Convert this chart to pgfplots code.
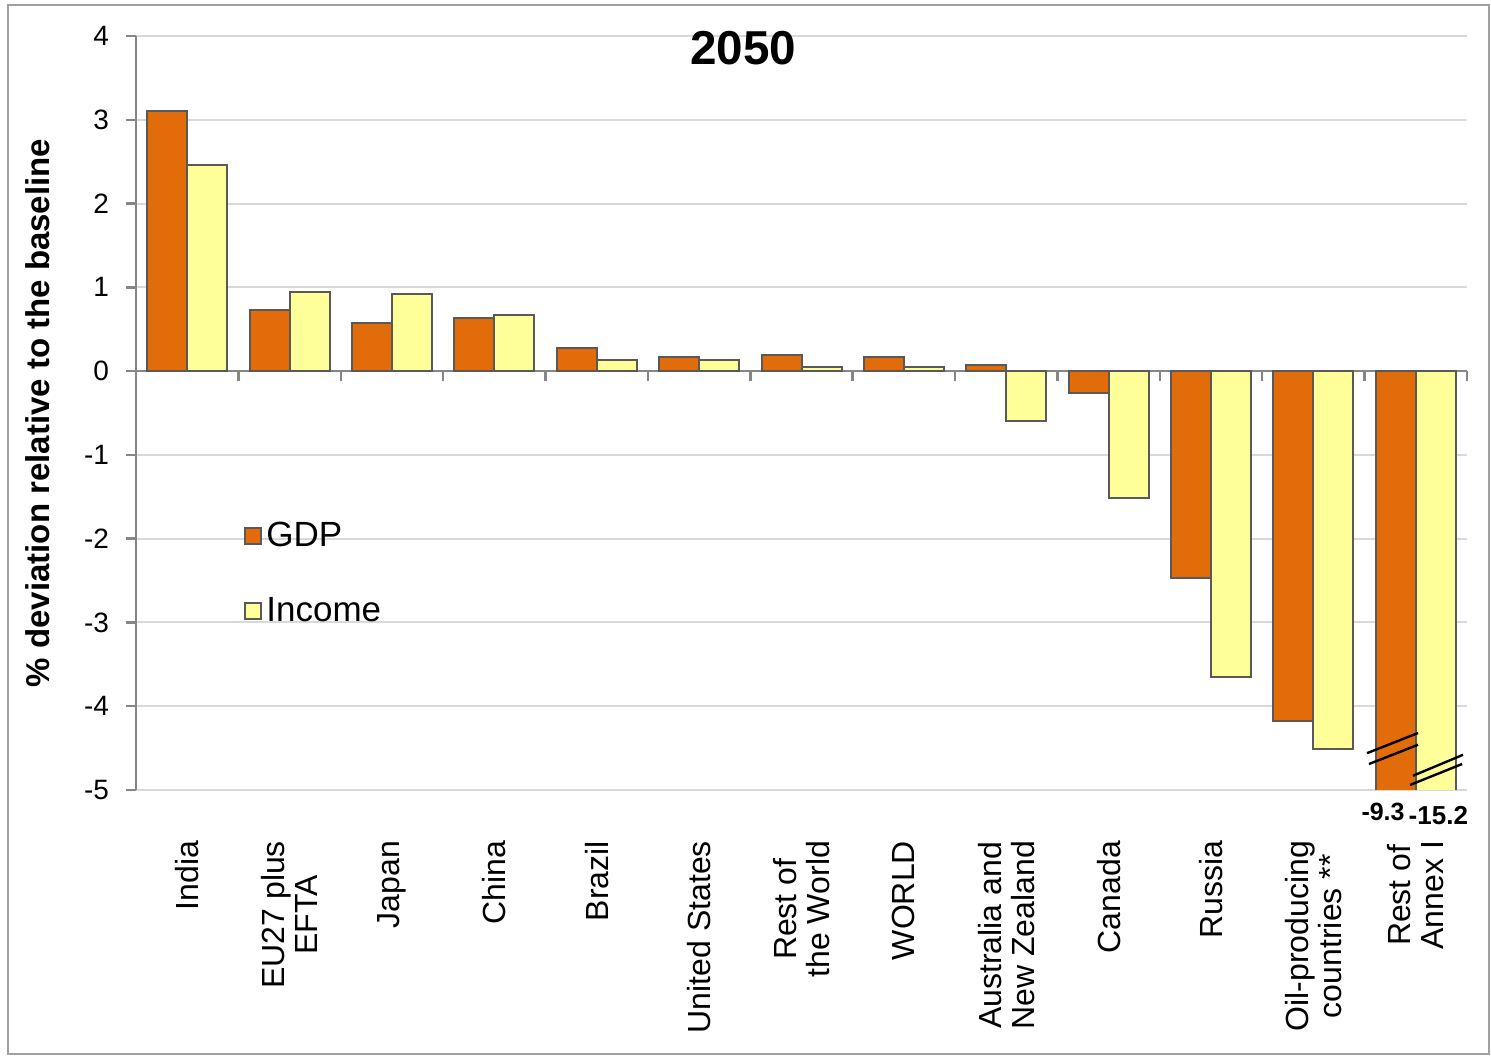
\documentclass[border=0pt]{standalone}
\usepackage{fontspec}
\setmainfont{Liberation Sans}
\usepackage{pgfplots}
\pgfplotsset{compat=1.18}

\definecolor{gdp}{HTML}{E36C0A}
\definecolor{inc}{HTML}{FFFF99}
\definecolor{edge}{HTML}{595959}
\definecolor{axgray}{HTML}{868686}
\definecolor{gridgray}{HTML}{D9D9D9}
\definecolor{framegray}{HTML}{A0A0A0}

% GDP and Income, % deviation from baseline, 2050 (last group goes off scale)
\pgfplotstableread{
x gdp income
0 3.10 2.46
1 0.73 0.94
2 0.58 0.92
3 0.63 0.67
4 0.27 0.13
5 0.17 0.13
6 0.19 0.05
7 0.17 0.05
8 0.07 -0.60
9 -0.26 -1.52
10 -2.47 -3.65
11 -4.18 -4.51
12 -9.3 -15.2
}\datatable

\begin{document}
\begin{tikzpicture}
\useasboundingbox (-68bp,-133.5bp) rectangle (677.5bp,395bp);
\draw[framegray, line width=1bp] (-64bp,-132bp) rectangle (676.5bp,392.5bp);

\begin{axis}[
  scale only axis, width=665.5bp, height=377bp,
  xmin=-0.5, xmax=12.5, ymin=-5, ymax=4,
  axis y line*=left, axis x line*=middle,
  axis line style={axgray, line width=1.2bp},
  xtick={0.5,1.5,...,12.5}, xticklabels={},
  ytick={-5,...,4},
  tick style={axgray, line width=1.2bp},
  major tick length=5bp, tick align=outside,
  ymajorgrids, major grid style={gridgray, line width=1bp},
  /pgf/number format/assume math mode=true,
  yticklabel style={font=\fontsize{14bp}{14bp}\selectfont, xshift=-5bp},
  ylabel={\bfseries\% deviation relative to the baseline},
  ylabel style={font=\fontsize{16.5bp}{16.5bp}\selectfont, at={(axis description cs:-0.0736,0.5)}, anchor=center},
  ybar=0pt, bar width=20bp,
  clip mode=individual,
  legend style={at={(axis cs:0.555,-1.75)}, anchor=north west, draw=none, fill=none,
    inner sep=0pt, row sep=20bp, font=\fontsize{17.5bp}{17.5bp}\selectfont,
    nodes={inner sep=2bp}},
  legend cell align=left,
  legend image code/.code={\draw[#1, draw=edge, line width=1bp] (0bp,-4bp) rectangle (8bp,4bp);},
]
\addplot[fill=gdp, draw=edge, line width=1bp] table[x=x, y=gdp] {\datatable};
\addplot[fill=inc, draw=edge, line width=1bp] table[x=x, y=income] {\datatable};
\legend{GDP, Income}

% axis break marks on the off-scale bars
\draw[black, line width=1.2bp] (axis cs:11.524,-4.56) -- (axis cs:12.022,-4.32);
\draw[black, line width=1.2bp] (axis cs:11.543,-4.69) -- (axis cs:12.022,-4.46);
\draw[black, line width=1.2bp] (axis cs:11.973,-4.83) -- (axis cs:12.461,-4.58);
\draw[black, line width=1.2bp] (axis cs:11.944,-4.94) -- (axis cs:12.452,-4.69);

\node[font=\bfseries\fontsize{12.5bp}{12.5bp}\selectfont] at (axis cs:11.68,-5.26) {-9.3};
\node[font=\bfseries\fontsize{13bp}{13bp}\selectfont] at (axis cs:12.22,-5.30) {-15.2};
\node[font=\bfseries\fontsize{23.8bp}{23.8bp}\selectfont] at (axis cs:5.43,3.85) {2050};
\end{axis}

% category labels
\begin{axis}[
  scale only axis, width=665.5bp, height=377bp,
  xmin=-0.5, xmax=12.5, ymin=-5, ymax=4,
  axis x line*=bottom, axis y line=none,
  x axis line style={draw=none},
  xtick={0,...,12}, major tick length=0pt,
  xticklabels={India, {EU27 plus\\EFTA}, Japan, China, Brazil, United States,
    {Rest of\\the World}, WORLD, {Australia and\\New Zealand}, Canada, Russia,
    {Oil-producing\\countries **}, {Rest of\\Annex I}},
  xticklabel style={rotate=90, anchor=east, align=center,
    font=\fontsize{16bp}{16.5bp}\selectfont},
  xticklabel shift=22bp,
]
\end{axis}
\end{tikzpicture}
\end{document}
